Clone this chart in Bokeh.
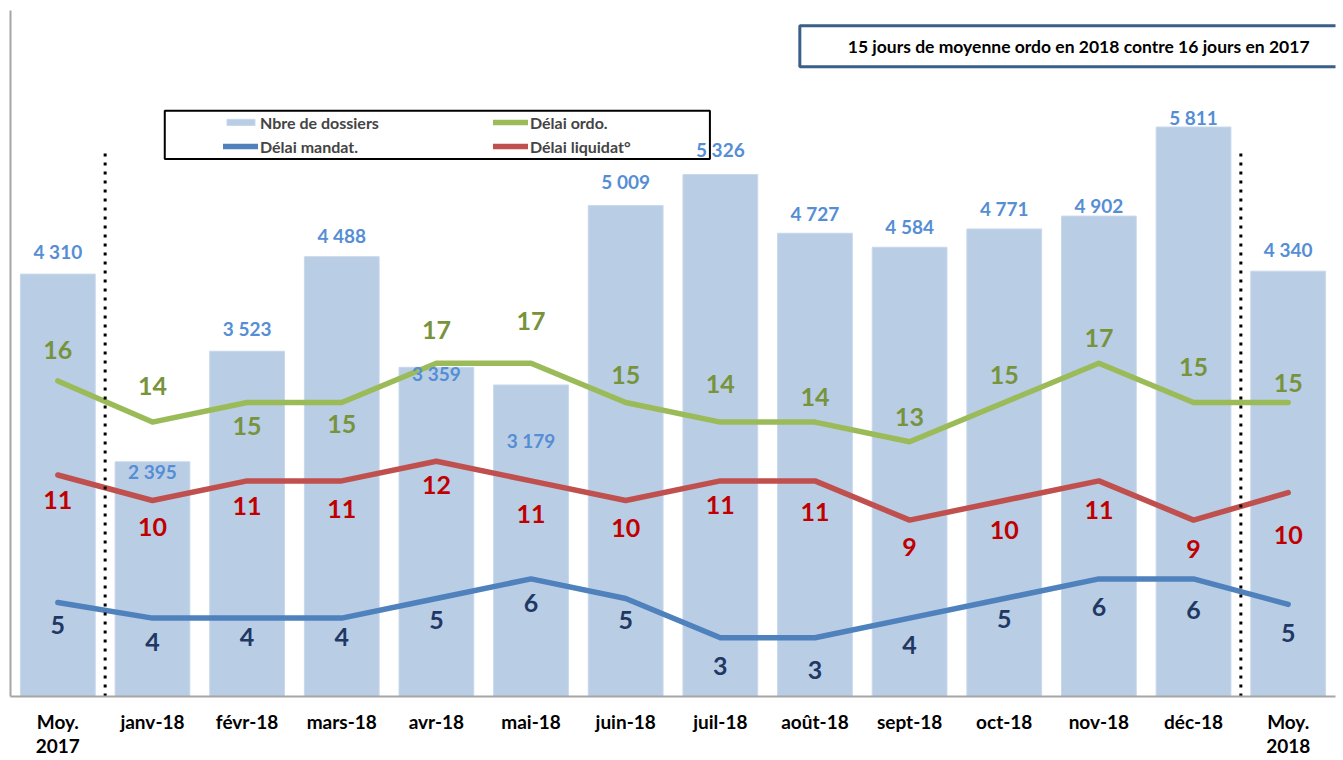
from bokeh.plotting import figure
from bokeh.models import (ColumnDataSource, Range1d, FactorRange, Legend, LegendItem,
                          BoxAnnotation, Label, FixedTicker)
from bokeh.core.properties import value
from bokeh.embed import file_html
from bokeh.resources import INLINE

# ---------------- data ----------------
categories = ["Moy.\n2017", "janv-18", "févr-18", "mars-18", "avr-18", "mai-18", "juin-18",
              "juil-18", "août-18", "sept-18", "oct-18", "nov-18", "déc-18", "Moy.\n2018"]
nbre_dossiers = [4310, 2395, 3523, 4488, 3359, 3179, 5009, 5326, 4727, 4584, 4771, 4902, 5811, 4340]
delai_ordo = [16.1, 14, 15, 15, 17, 17, 15, 14, 14, 13, 15, 17, 15, 15]
delai_liquidat = [11.3, 10, 11, 11, 12, 11, 10, 11, 11, 9, 10, 11, 9, 10.4]
delai_mandat = [4.8, 4, 4, 4, 5, 6, 5, 3, 3, 4, 5, 6, 6, 4.7]
title_text = "15 jours de moyenne ordo en 2018 contre 16 jours en 2017"

# ---------------- label placement (style, screen px, + = down) ----------------
bar_lbl_dy = [-23, 10, -23, -21, 6, 56, -24, -25, -20, -21, -20, -11, -10, -22]
ordo_lbl_dy = [-31, -36, 23, 21, -33, -42, -28, -38, -25, -25, -28, -25, -36, -20]
liq_lbl_dy = [25, 26, 25, 28, 24, 33, 27, 24, 31, 27, 29, 29, 29, 42]
man_lbl_dy = [23, 24, 19, 19, 21, 24, 21, 28, 32, 27, 20, 28, 31, 29]

FONT = "Lato"
BAR_COLOR = "#B9CDE5"
GREEN, RED, BLUE = "#9BBB59", "#C0504D", "#4F81BD"

src = ColumnDataSource(dict(
    cat=categories,
    nbre=nbre_dossiers,
    nbre_lbl=[f"{v:,}".replace(",", " ") for v in nbre_dossiers],
    ordo=delai_ordo, ordo_lbl=[str(round(v)) for v in delai_ordo],
    liq=delai_liquidat, liq_lbl=[str(round(v)) for v in delai_liquidat],
    man=delai_mandat, man_lbl=[str(round(v)) for v in delai_mandat],
    bar_dy=bar_lbl_dy, ordo_dy=ordo_lbl_dy, liq_dy=liq_lbl_dy, man_dy=man_lbl_dy,
))

p = figure(width=1343, height=760, x_range=FactorRange(factors=categories),
           y_range=Range1d(0, 7000), output_backend="svg", toolbar_location=None,
           min_border_left=10, min_border_right=8, min_border_top=10, min_border_bottom=10)
p.extra_y_ranges = {"lines": Range1d(0, 35)}
p.xgrid.visible = False
p.ygrid.visible = False
p.outline_line_color = None
p.background_fill_color = "white"
p.border_fill_color = "white"

# axes
xa = p.xaxis[0]
xa.axis_line_color = "#A6A6A6"
xa.axis_line_width = 2
xa.major_tick_line_color = None
xa.minor_tick_line_color = None
xa.major_tick_out = 0
xa.major_tick_in = 0
xa.minor_tick_out = 0
xa.major_label_text_font = FONT
xa.major_label_text_font_style = "bold"
xa.major_label_text_font_size = "19px"
xa.major_label_text_color = "black"
xa.major_label_text_line_height = 1.07
xa.major_label_standoff = 13
ya = p.yaxis[0]
ya.ticker = FixedTicker(ticks=[])
ya.axis_line_color = "#A6A6A6"
ya.axis_line_width = 2
ya.major_tick_line_color = None
ya.minor_tick_line_color = None
ya.major_tick_out = 0
ya.minor_tick_out = 0
ya.major_label_standoff = 0

# bars
bars = p.vbar(x="cat", top="nbre", width=0.79, source=src, fill_color=BAR_COLOR,
              line_color="#C8D8EC", line_width=1)

# lines
l_man = p.line(x="cat", y="man", source=src, y_range_name="lines", line_color=BLUE,
               line_width=5.5, line_join="round", line_cap="round")
l_liq = p.line(x="cat", y="liq", source=src, y_range_name="lines", line_color=RED,
               line_width=5.5, line_join="round", line_cap="round")
l_ordo = p.line(x="cat", y="ordo", source=src, y_range_name="lines", line_color=GREEN,
                line_width=5.5, line_join="round", line_cap="round")

# dotted separators between averages and months
p.segment(x0=[1.0, 13.0], x1=[1.0, 13.0], y0=[0, 0], y1=[27.7, 27.7], y_range_name="lines",
          line_color="black", line_width=3, line_dash="3 6")

# legend frame (under the labels)
p.add_layout(BoxAnnotation(left=1.63, right=7.39, top=29.88, bottom=27.42, y_range_name="lines",
                           fill_color="white", fill_alpha=1, line_color="black",
                           line_alpha=1, line_width=2, level="underlay"))

# labels
common = dict(text_font=value(FONT), text_font_style="bold", text_align="center",
              text_baseline="middle", source=src)
p.text(x="cat", y="nbre", text="nbre_lbl", y_offset="bar_dy", text_color="#558ED5",
       text_font_size="19px", **common)
p.text(x="cat", y="ordo", text="ordo_lbl", y_offset="ordo_dy", text_color="#77933C",
       text_font_size="25px", y_range_name="lines", **common)
p.text(x="cat", y="liq", text="liq_lbl", y_offset="liq_dy", text_color="#C00000",
       text_font_size="25px", y_range_name="lines", **common)
p.text(x="cat", y="man", text="man_lbl", y_offset="man_dy", text_color="#1F3864",
       text_font_size="25px", y_range_name="lines", **common)

legend = Legend(items=[
    LegendItem(label="Nbre de dossiers", renderers=[bars]),
    LegendItem(label="Délai ordo.", renderers=[l_ordo]),
    LegendItem(label="Délai mandat.", renderers=[l_man]),
    LegendItem(label="Délai liquidat°", renderers=[l_liq]),
], orientation="horizontal", ncols=2, location=(213, 540), padding=0, spacing=4,
    margin=0, glyph_width=35, glyph_height=8, label_height=20, label_width=229,
    label_standoff=2, label_text_font=FONT, label_text_font_style="bold",
    label_text_font_size="16px", border_line_color=None, background_fill_alpha=0)
p.add_layout(legend)

# title box
p.add_layout(Label(x=8.34, y=33.17, y_range_name="lines", text=title_text,
                   text_font=FONT, text_font_style="bold", text_font_size="17.5px",
                   text_color="black", text_align="left", text_baseline="middle",
                   border_line_color="#3A5F8B", border_line_width=3,
                   background_fill_color="white",
                   padding=dict(left=48, right=60, top=10, bottom=10)))

open("out.html", "w").write(file_html(p, INLINE))
